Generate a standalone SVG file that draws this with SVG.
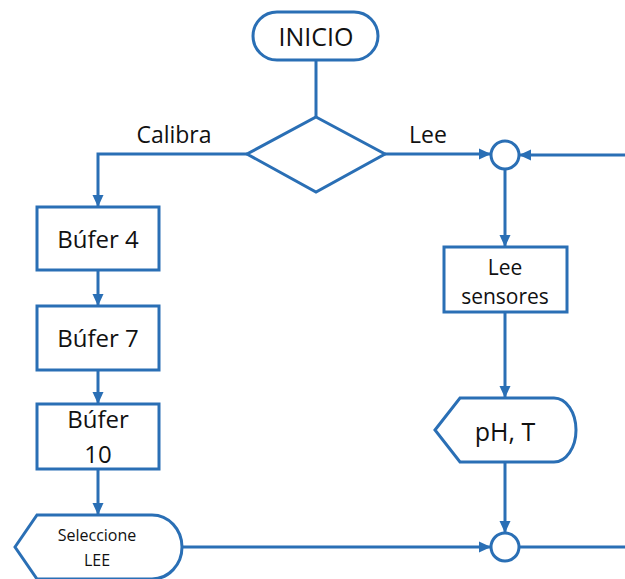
<svg xmlns="http://www.w3.org/2000/svg" width="625" height="579" viewBox="0 0 625 579">
<style>
.s{fill:#fff;stroke:#2a6fb5;stroke-width:3}
.c{fill:none;stroke:#2a6fb5;stroke-width:3}
.t{font-family:"Open Sans","Liberation Sans",sans-serif;fill:#111;text-anchor:middle}
</style>
<defs>
<marker id="a" markerUnits="userSpaceOnUse" markerWidth="12" markerHeight="12" viewBox="0 0 12 12" refX="11" refY="6" orient="auto">
<path d="M0,0.5 L12,6 L0,11.5 Z" fill="#2a6fb5"/>
</marker>
</defs>
<rect width="625" height="579" fill="#fff"/>
<g id="connectors">
<path class="c" d="M316,60 V117"/>
<path class="c" d="M247,154 H98 V206" marker-end="url(#a)"/>
<path class="c" d="M98,270 V305" marker-end="url(#a)"/>
<path class="c" d="M98,370 V403" marker-end="url(#a)"/>
<path class="c" d="M98,469 V514" marker-end="url(#a)"/>
<path class="c" d="M385,154 H490" marker-end="url(#a)"/>
<path class="c" d="M625,155 H520" marker-end="url(#a)"/>
<path class="c" d="M505,169 V246" marker-end="url(#a)"/>
<path class="c" d="M505,312 V397" marker-end="url(#a)"/>
<path class="c" d="M505,462 V532" marker-end="url(#a)"/>
<path class="c" d="M182,547 H490" marker-end="url(#a)"/>
<path class="c" d="M520,547 H625"/>
</g>
<g id="inicio"><rect class="s" x="253" y="12" width="125" height="48" rx="24"/><text class="t" x="316" y="46" font-size="25">INICIO</text></g>
<g id="decision"><path class="s" d="M316,117 L385,154 L316,192 L247,154 Z"/></g>
<g id="lbl-calibra"><text class="t" x="174" y="143" font-size="23">Calibra</text></g>
<g id="lbl-lee"><text class="t" x="428" y="143" font-size="23">Lee</text></g>
<g id="bufer4"><rect class="s" x="37" y="207" width="122" height="63"/><text class="t" x="98" y="248" font-size="24">Búfer 4</text></g>
<g id="bufer7"><rect class="s" x="37" y="306" width="122" height="64"/><text class="t" x="98" y="347" font-size="24">Búfer 7</text></g>
<g id="bufer10"><rect class="s" x="37" y="404" width="122" height="65"/><text class="t" x="98" y="428" font-size="24">Búfer</text><text class="t" x="98" y="463" font-size="24">10</text></g>
<g id="seleccione"><path class="s" d="M15,547 L37,515 H152 A30,32 0 0 1 152,579 H37 Z"/><text class="t" x="97" y="541" font-size="16">Seleccione</text><text class="t" x="97" y="566" font-size="16">LEE</text></g>
<g id="junction-top"><circle class="s" cx="505" cy="155" r="14"/></g>
<g id="lee-sensores"><rect class="s" x="444" y="247" width="123" height="65"/><text class="t" x="505" y="275" font-size="21">Lee</text><text class="t" x="505" y="304" font-size="21">sensores</text></g>
<g id="ph-t"><path class="s" d="M435,430 L460,398 H554 A22,32 0 0 1 554,462 H460 Z"/><text class="t" x="505" y="441" font-size="25">pH, T</text></g>
<g id="junction-bottom"><circle class="s" cx="505" cy="547" r="14"/></g>
</svg>
